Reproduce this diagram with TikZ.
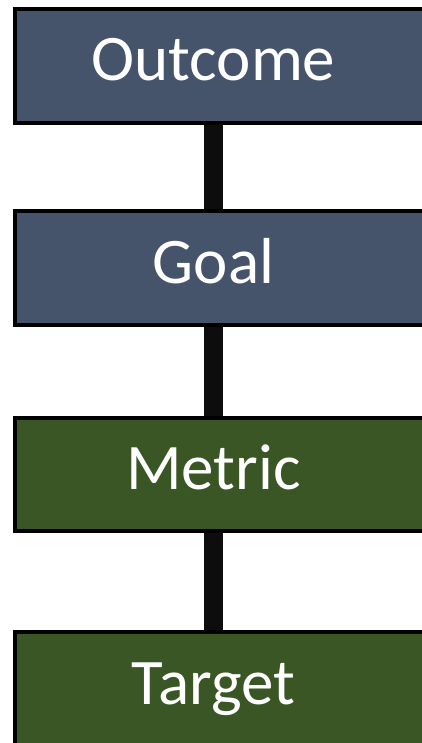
\documentclass[tikz,border=0pt]{standalone}
\usepackage{fontspec}
\setmainfont{Carlito}
\definecolor{slateblue}{RGB}{69,84,106}
\definecolor{mossgreen}{RGB}{58,86,36}
\definecolor{linkblack}{RGB}{13,13,13}
\begin{document}
\begin{tikzpicture}[x=1pt,y=-1pt,
  levelbox/.style={draw=black, line width=4pt, rectangle, minimum width=415pt,
    inner sep=0pt, text=white, text height=30pt, text depth=0pt,
    font=\fontsize{65}{78}\selectfont},
  bluebox/.style={levelbox, fill=slateblue},
  greenbox/.style={levelbox, fill=mossgreen},
  link/.style={draw=linkblack, line width=19pt}]
\useasboundingbox (0,0) rectangle (422,743);
\clip (0,0) rectangle (422,743);
\coordinate (cx) at (213.5,0);
\node[bluebox, minimum height=114pt] (outcome) at (222.5,66) {\hspace*{-18pt}Outcome};
\node[bluebox, minimum height=114pt] (goal) at (222.5,268) {\hspace*{-18pt}Goal};
\node[greenbox, minimum height=113pt] (metric) at (222.5,474.5) {\hspace*{-18pt}Metric};
\node[greenbox, minimum height=114pt] (target) at (222.5,689) {\hspace*{-18pt}Target};
\draw[link] (outcome.south -| cx) -- (goal.north -| cx);
\draw[link] (goal.south -| cx) -- (metric.north -| cx);
\draw[link] (metric.south -| cx) -- (target.north -| cx);
\end{tikzpicture}
\end{document}
